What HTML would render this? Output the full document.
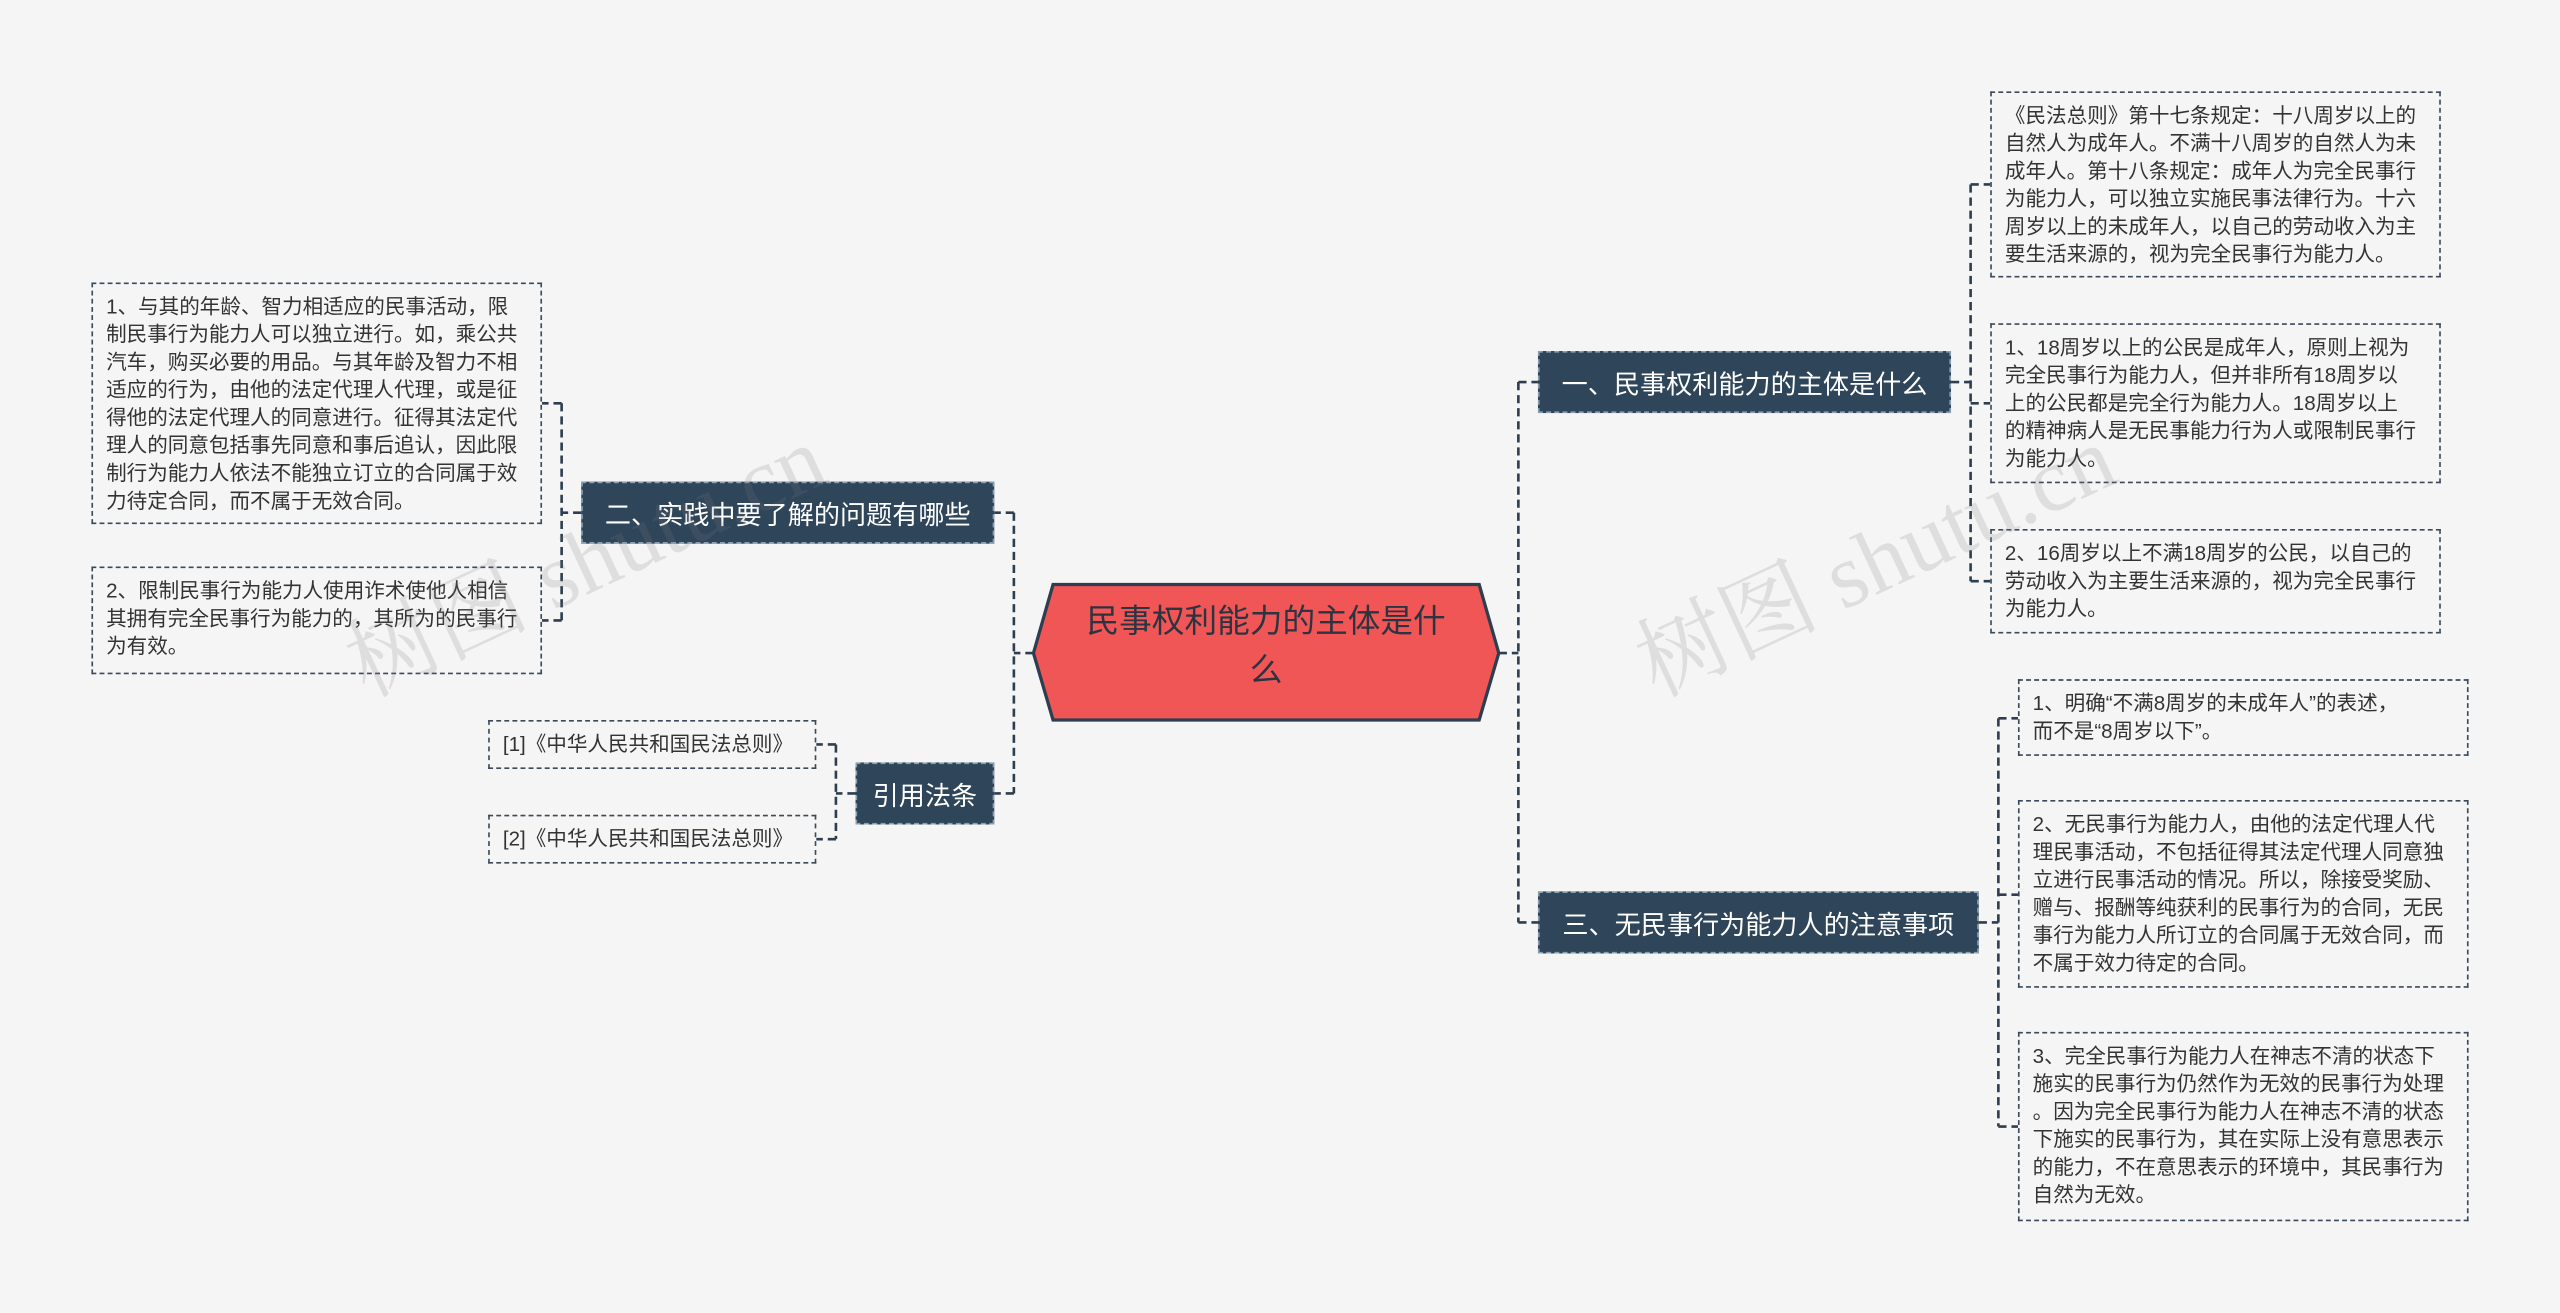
<!DOCTYPE html>
<html><head><meta charset="utf-8">
<style>
html,body{margin:0;padding:0;background:#f5f5f5;}
body{width:2560px;height:1312px;overflow:hidden;position:relative;}
#w{position:absolute;left:0;top:0;width:1568px;height:804px;transform:scale(1.632653);transform-origin:0 0;font-family:"Liberation Sans","Noto Sans CJK SC",sans-serif;}
.leaf{position:absolute;box-sizing:border-box;border:1.2px dashed #3a4a5a;font-size:12.6px;line-height:17px;color:#333;padding:6px 7px 0 8px;white-space:nowrap;}
.br{position:absolute;box-sizing:border-box;background:#2f4559;color:#fff;font-size:16px;display:flex;align-items:center;justify-content:center;border:1px dashed #8aa0b0;white-space:nowrap;}
.wm{position:absolute;font-size:56px;color:rgba(120,120,120,0.18);transform:rotate(-25deg);white-space:nowrap;font-family:"Liberation Serif","Noto Serif CJK SC",serif;}
</style></head><body><div id="w">
<svg width="1568" height="804" style="position:absolute;left:0;top:0">
<g stroke="#2d3e50" stroke-width="1.6" fill="none" stroke-dasharray="5,3">
<path d="M918 400H930M930 234V565M930 234H942M930 565H942"/>
<path d="M1195 234H1207M1207 113V356M1207 113H1219M1207 247H1219M1207 356H1219"/>
<path d="M1212 565H1224M1224 440V690M1224 440H1236M1224 548H1236M1224 690H1236"/>
<path d="M633 400H621M621 314V486M621 314H609M621 486H609"/>
<path d="M356 314H344M344 247V380M344 247H332M344 380H332"/>
<path d="M524 486H512M512 456V514M512 456H500M512 514H500"/>
</g>
<polygon points="645,358 906,358 918,400 906,441 645,441 633,400" fill="#f05656" stroke="#2d3e50" stroke-width="2"/>
</svg>
<div style="position:absolute;left:645px;top:366px;width:261px;text-align:center;font-size:20px;line-height:30px;color:#2d3340;">民事权利能力的主体是什<br>么</div>

<div class="br" style="left:942px;top:215px;width:253px;height:38px;">一、民事权利能力的主体是什么</div>
<div class="br" style="left:942px;top:546px;width:270px;height:38px;">三、无民事行为能力人的注意事项</div>
<div class="br" style="left:356px;top:295px;width:253px;height:38px;">二、实践中要了解的问题有哪些</div>
<div class="br" style="left:524px;top:467px;width:85px;height:38px;">引用法条</div>

<div class="leaf" style="left:1219px;top:56px;width:276px;height:114px;">《民法总则》第十七条规定：十八周岁以上的<br>自然人为成年人。不满十八周岁的自然人为未<br>成年人。第十八条规定：成年人为完全民事行<br>为能力人，可以独立实施民事法律行为。十六<br>周岁以上的未成年人，以自己的劳动收入为主<br>要生活来源的，视为完全民事行为能力人。</div>
<div class="leaf" style="left:1219px;top:198px;width:276px;height:98px;">1、18周岁以上的公民是成年人，原则上视为<br>完全民事行为能力人，但并非所有18周岁以<br>上的公民都是完全行为能力人。18周岁以上<br>的精神病人是无民事能力行为人或限制民事行<br>为能力人。</div>
<div class="leaf" style="left:1219px;top:324px;width:276px;height:64px;">2、16周岁以上不满18周岁的公民，以自己的<br>劳动收入为主要生活来源的，视为完全民事行<br>为能力人。</div>
<div class="leaf" style="left:1236px;top:416px;width:276px;height:47px;">1、明确“不满8周岁的未成年人”的表述，<br>而不是“8周岁以下”。</div>
<div class="leaf" style="left:1236px;top:490px;width:276px;height:115px;">2、无民事行为能力人，由他的法定代理人代<br>理民事活动，不包括征得其法定代理人同意独<br>立进行民事活动的情况。所以，除接受奖励、<br>赠与、报酬等纯获利的民事行为的合同，无民<br>事行为能力人所订立的合同属于无效合同，而<br>不属于效力待定的合同。</div>
<div class="leaf" style="left:1236px;top:632px;width:276px;height:116px;">3、完全民事行为能力人在神志不清的状态下<br>施实的民事行为仍然作为无效的民事行为处理<br>。因为完全民事行为能力人在神志不清的状态<br>下施实的民事行为，其在实际上没有意思表示<br>的能力，不在意思表示的环境中，其民事行为<br>自然为无效。</div>
<div class="leaf" style="left:56px;top:173px;width:276px;height:148px;">1、与其的年龄、智力相适应的民事活动，限<br>制民事行为能力人可以独立进行。如，乘公共<br>汽车，购买必要的用品。与其年龄及智力不相<br>适应的行为，由他的法定代理人代理，或是征<br>得他的法定代理人的同意进行。征得其法定代<br>理人的同意包括事先同意和事后追认，因此限<br>制行为能力人依法不能独立订立的合同属于效<br>力待定合同，而不属于无效合同。</div>
<div class="leaf" style="left:56px;top:347px;width:276px;height:66px;">2、限制民事行为能力人使用诈术使他人相信<br>其拥有完全民事行为能力的，其所为的民事行<br>为有效。</div>
<div class="leaf" style="left:299px;top:441px;width:201px;height:30px;padding-top:6px;">[1]《中华人民共和国民法总则》</div>
<div class="leaf" style="left:299px;top:499px;width:201px;height:30px;padding-top:6px;">[2]《中华人民共和国民法总则》</div>

<div class="wm" style="left:200px;top:300px;">树图 shutu.cn</div>
<div class="wm" style="left:990px;top:300px;">树图 shutu.cn</div>
</div></body></html>
